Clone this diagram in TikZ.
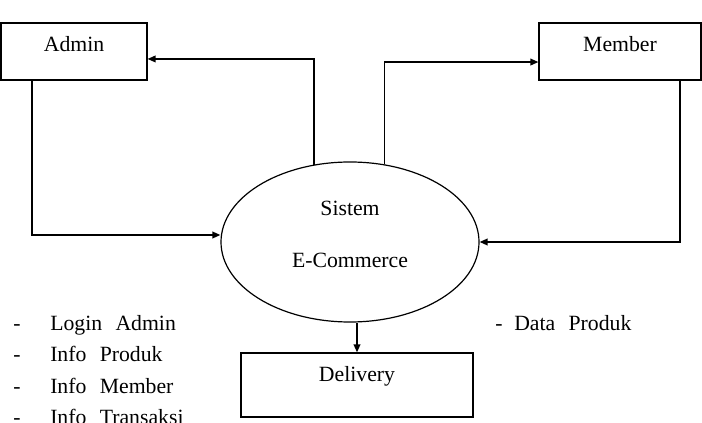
\documentclass[tikz,border=0pt]{standalone}
\usepackage{fontspec}
\setmainfont{Liberation Serif}
\usetikzlibrary{
    arrows.meta,
    shapes.geometric
}

\tikzset{
    entity/.style={draw, line width=0.9pt, inner sep=0pt, text height=21.75pt, text depth=21pt},
    process/.style={ellipse, draw, line width=0.9pt, inner sep=0pt, minimum width=193.5pt, minimum height=120pt},
    flow/.style={line width=1.1pt, -{Triangle[length=6pt,width=5pt]}},
    item/.style={anchor=base west, inner sep=0pt}
}
\newcommand{\gap}{\hspace{10pt}}

\begin{document}
\begin{tikzpicture}[x=0.75pt, y=-0.75pt, font=\fontsize{16.3}{19}\selectfont]
\useasboundingbox (0,0) rectangle (702,423);

% External entities
\node[entity, minimum width=109.5pt] (admin) at (74,51.5) {Admin};
\node[entity, minimum width=121.5pt] (member) at (620,51.5) {Member};
\node[entity, minimum width=174pt, text depth=26.25pt] (delivery) at (357,385) {Delivery};

% Main process
\node[process,
      label={[anchor=base,yshift=25.5pt]center:Sistem},
      label={[anchor=base,yshift=-13.5pt]center:E-Commerce}] (sys) at (350,242) {};

% Data flows
\draw[flow] ([xshift=-31.5pt]admin.south) |- ([yshift=5.25pt]sys.west);
\draw[flow] (sys.115.8) |- ([yshift=-5.6pt]admin.east);
\draw[flow] (sys.66.2) |- ([yshift=-7.9pt]member.west);
\draw[flow] ([xshift=45pt]member.south) |- (sys.east);
\draw[flow] (sys.south -| delivery.north) -- (delivery.north);

% Flow contents
\foreach \txt [count=\i] in {Login\gap Admin, Info\gap Produk, Info\gap Member, Info\gap Transaksi}
    \node[item] (info\i) at (13,{331+31*(\i-1)}) {\makebox[27.75pt][l]{-}\txt};
\node[item] (dataproduk) at (495,331) {\makebox[14.25pt][l]{-}Data\gap Produk};

\end{tikzpicture}
\end{document}
